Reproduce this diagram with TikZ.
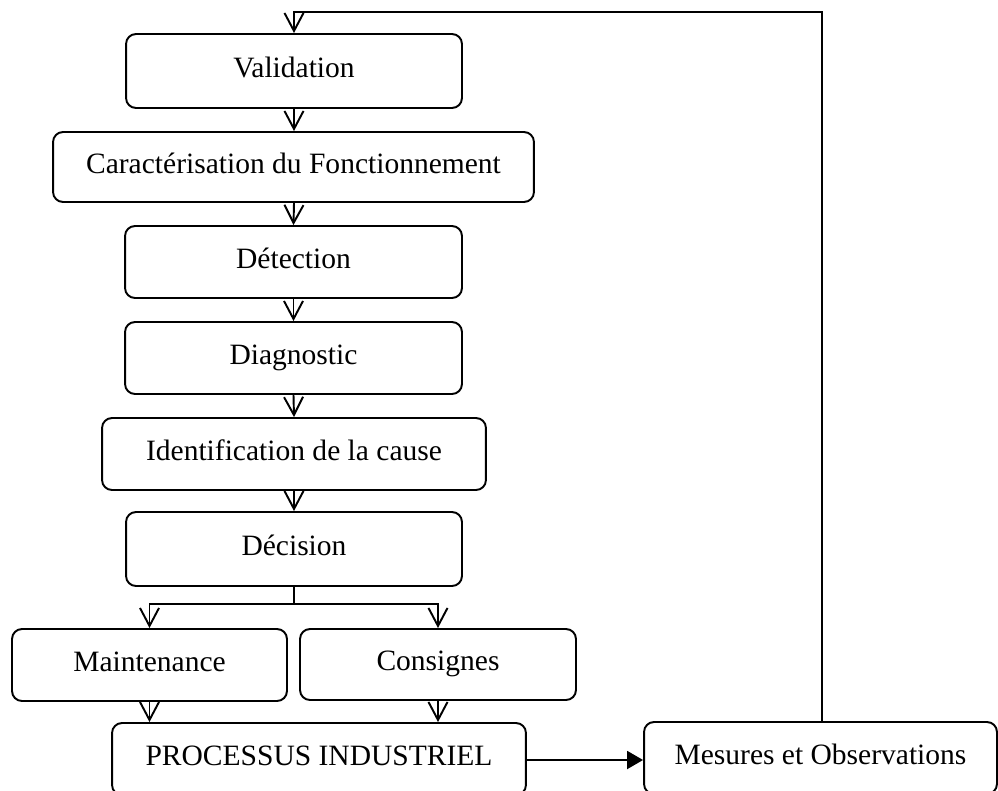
\documentclass[tikz,border=0pt]{standalone}
\usepackage{fontspec}
\setmainfont{Liberation Serif}
\usetikzlibrary{arrows.meta}
\begin{document}
\begin{tikzpicture}[x=0.02cm,y=-0.02cm,
  box/.style={draw, line width=1.1pt, rounded corners=0.2cm, inner sep=0pt,
    text height=11pt, text depth=4pt,
    font=\fontsize{16.8}{20}\selectfont},
  flow/.style={line width=1.1pt, -{Straight Barb[length=0.36cm,width=0.38cm,line width=1.1pt]}},
  feed/.style={line width=1.1pt, -{Triangle[length=0.32cm,width=0.36cm]}}]
\useasboundingbox (0,0) rectangle (998,791);
\clip (0,0) rectangle (998,791);

% processing chain
\node[box, minimum width=6.72cm, minimum height=1.48cm] (val)   at (294,71)    {Validation};
\node[box, minimum width=9.62cm, minimum height=1.40cm] (car)   at (293.5,167) {Caractérisation du Fonctionnement};
\node[box, minimum width=6.74cm, minimum height=1.44cm] (det)   at (293.5,262) {Détection};
\node[box, minimum width=6.74cm, minimum height=1.44cm] (diag)  at (293.5,358) {Diagnostic};
\node[box, minimum width=7.68cm, minimum height=1.44cm] (ident) at (294,454)   {Identification de la cause};
\node[box, minimum width=6.72cm, minimum height=1.48cm] (dec)   at (294,549)   {Décision};
\node[box, minimum width=5.50cm, minimum height=1.44cm] (maint) at (149.5,665) {Maintenance};
\node[box, minimum width=5.52cm, minimum height=1.42cm] (cons)  at (438,664.5) {Consignes};
\node[box, minimum width=8.28cm, minimum height=1.44cm] (proc)  at (319,759)   {PROCESSUS INDUSTRIEL};
\node[box, minimum width=7.06cm, minimum height=1.44cm] (mes)   at (820.5,758) {Mesures et Observations};

% vertical links
\draw[flow] (val.south)  -- (val.south |- car.north);
\draw[flow] (car.south -| val.south) -- (det.north);
\draw[flow] (det.south)  -- (diag.north);
\draw[flow] (diag.south) -- (ident.north);
\draw[flow] (ident.south) -- (dec.north);

% split after the decision
\coordinate (split) at (294,604);
\draw[line width=1.1pt] (dec.south) -- (split);
\draw[flow] (split) -| (maint.north);
\draw[flow] (split) -| (cons.north);
\draw[flow] (maint.south) -- (maint.south |- proc.north);
\draw[flow] (cons.south)  -- (cons.south |- proc.north);

% process to measurements, then feedback loop
\draw[feed] (proc.east |- 0,760) -- (mes.west |- 0,760);
\coordinate (top) at (294,12);
\draw[flow] (mes.north -| 822,0) |- (top) -- (val.north);
\end{tikzpicture}
\end{document}
